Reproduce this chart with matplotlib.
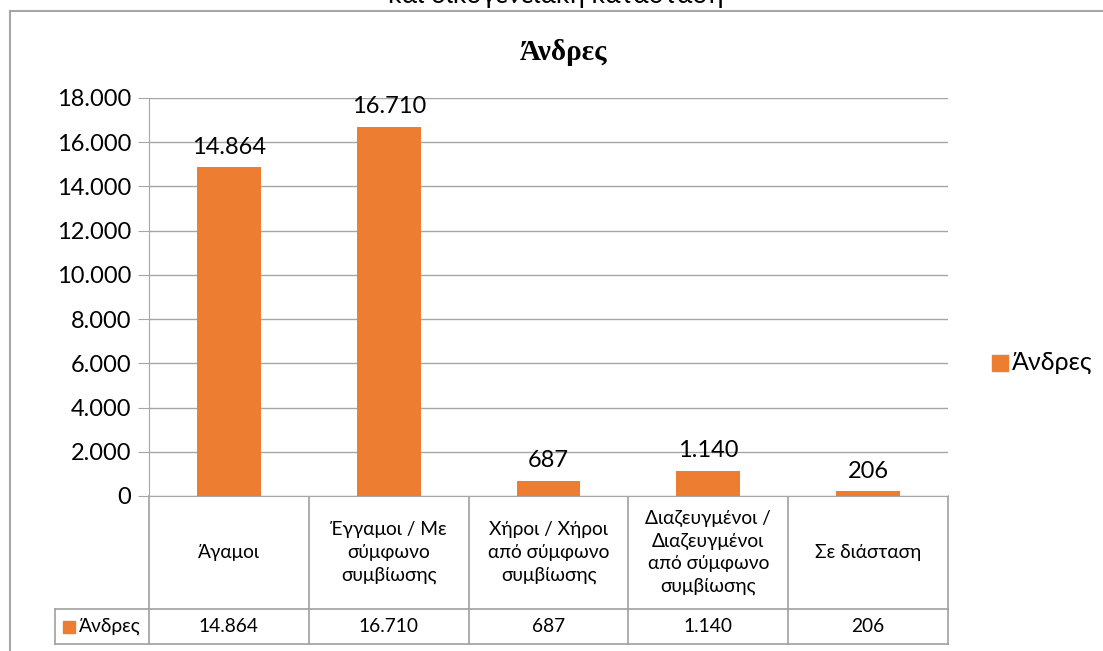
import matplotlib
matplotlib.use("Agg")
import matplotlib.pyplot as plt
from matplotlib.lines import Line2D
from matplotlib.patches import Rectangle

plt.rcParams['font.family'] = ['Lato', 'DejaVu Sans']

# ---- data ----
categories = ["Άγαμοι",
              "Έγγαμοι / Με\nσύμφωνο\nσυμβίωσης",
              "Χήροι / Χήροι\nαπό σύμφωνο\nσυμβίωσης",
              "Διαζευγμένοι /\nΔιαζευγμένοι\nαπό σύμφωνο\nσυμβίωσης",
              "Σε διάσταση"]
values = [14864, 16710, 687, 1140, 206]
value_labels = ["14.864", "16.710", "687", "1.140", "206"]
yticks = [0, 2000, 4000, 6000, 8000, 10000, 12000, 14000, 16000, 18000]
ytick_labels = ["0", "2.000", "4.000", "6.000", "8.000", "10.000",
                "12.000", "14.000", "16.000", "18.000"]
series_name = "Άνδρες"
chart_title = "Άνδρες"
cut_title = "και οικογενειακή κατάσταση"

ORANGE = "#ED7D31"
GRID = "#A6A6A6"
W, H = 1103, 651

fig = plt.figure(figsize=(W / 100, H / 100), dpi=100)

# overlay axes in pixel coordinates for frame / table
ov = fig.add_axes([0, 0, 1, 1])
ov.set_xlim(0, W)
ov.set_ylim(H, 0)
ov.axis("off")

# plot area
L, R, T, B = 149, 948, 98, 496
ax = fig.add_axes([L / W, 1 - B / H, (R - L) / W, (B - T) / H])
ax.set_ylim(0, 18000)
ax.set_xlim(-0.5, len(values) - 0.5)
ax.yaxis.grid(True, color=GRID, linewidth=1)
ax.set_axisbelow(True)
for s in ["top", "right"]:
    ax.spines[s].set_visible(False)
ax.spines["left"].set_color(GRID)
ax.spines["bottom"].set_color(GRID)
ax.set_yticks(yticks)
ax.set_yticklabels(ytick_labels, fontsize=17)
ax.tick_params(axis="y", length=8, color=GRID, pad=5)
ax.set_xticks([])

x = list(range(len(values)))
ax.bar(x, values, width=0.4, color=ORANGE, zorder=3)
for xi, v, lab in zip(x, values, value_labels):
    ax.annotate(lab, (xi, v), xytext=(0, 7), textcoords="offset points",
                ha="center", va="bottom", fontsize=17)

# title
ov.text(564, 52, chart_title, ha="center", va="center",
        fontsize=21, fontweight="bold", family="Liberation Serif")
# cut-off outer title
ov.text(556, 3, cut_title, ha="center", va="baseline", fontsize=19)

# outer frame
ov.add_line(Line2D([10, W], [11, 11], color=GRID, linewidth=1.5))
ov.add_line(Line2D([10, 10], [11, H], color=GRID, linewidth=1.5))

# data table
col_edges = [L + i * (R - L) / len(values) for i in range(len(values) + 1)]
row_top, row_mid, row_bot = B, 609, 644
tab_left = 55
tc = "#A0A0A0"
for xe in col_edges:
    ov.add_line(Line2D([xe, xe], [row_top, row_bot], color=tc, linewidth=1.2))
ov.add_line(Line2D([tab_left, tab_left], [row_mid, row_bot], color=tc, linewidth=1.2))
ov.add_line(Line2D([tab_left, R], [row_mid, row_mid], color=tc, linewidth=1.2))
ov.add_line(Line2D([tab_left, R], [row_bot, row_bot], color=tc, linewidth=1.2))
for i, (cat, lab) in enumerate(zip(categories, value_labels)):
    cx = (col_edges[i] + col_edges[i + 1]) / 2
    ov.text(cx, (row_top + row_mid) / 2, cat, ha="center", va="center",
            fontsize=13.8, linespacing=1.38)
    ov.text(cx, (row_mid + row_bot) / 2, lab, ha="center", va="center",
            fontsize=13.8)
ov.add_patch(Rectangle((63, 621), 12, 12, color=ORANGE))
ov.text(79, (row_mid + row_bot) / 2, series_name, ha="left", va="center",
        fontsize=13.8)

# legend
ov.add_patch(Rectangle((992, 355), 16, 16, color=ORANGE))
ov.text(1012, 363, series_name, ha="left", va="center", fontsize=18)

fig.savefig("out.png", dpi=100)
